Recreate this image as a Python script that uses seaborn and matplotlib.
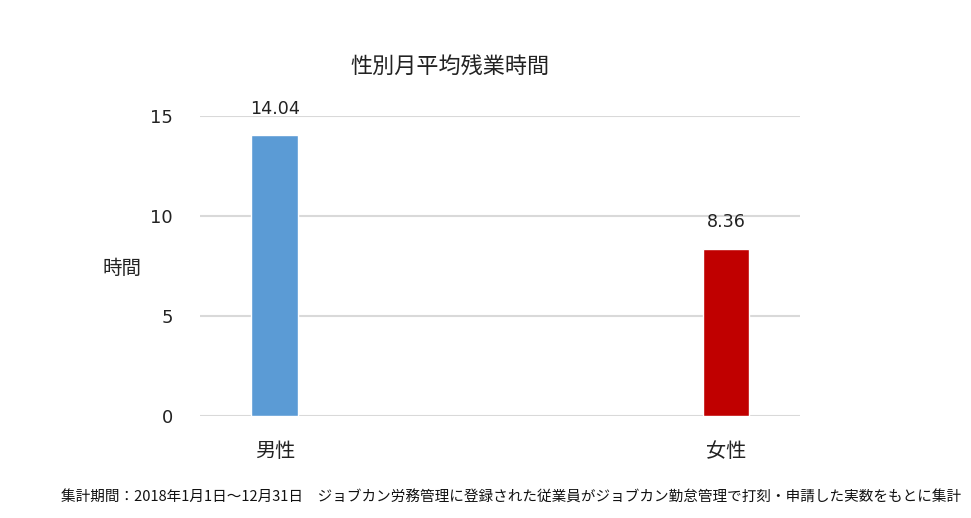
import matplotlib
matplotlib.use("Agg")
import matplotlib.pyplot as plt
import seaborn as sns
import pandas as pd

# ------------------------------------------------------------------
# DATA
# ------------------------------------------------------------------
genders = ["男性", "女性"]
hours   = [14.04, 8.36]
colors  = ["#5B9BD5", "#C00000"]
y_ticks = [0, 5, 10, 15]

title    = "性別月平均残業時間"
y_label  = "時間"
footnote = ("集計期間：2018年1月1日～12月31日　ジョブカン労務管理に登録された"
            "従業員がジョブカン勤怠管理で打刻・申請した実数をもとに集計")

df = pd.DataFrame({"gender": genders, "hours": hours})

sns.set_theme(style="white")
plt.rcParams["font.family"] = ["Noto Sans CJK JP", "DejaVu Sans"]
NUM_FONT = ["DejaVu Sans"]
TXT = "#222222"

fig = plt.figure(figsize=(9.71, 5.18), dpi=100)
ax = fig.add_axes([200 / 971, (518 - 416) / 518, 600 / 971, 300 / 518])

sns.barplot(data=df, x="gender", y="hours", hue="gender",
            palette=dict(zip(genders, colors)), width=0.104,
            legend=False, ax=ax, saturation=1)

for c in ax.containers:
    ax.bar_label(c, fmt="%.2f", padding=12.5, fontsize=12.6,
                 color=TXT, family=NUM_FONT)

ax.set_xlim(-0.166, 1.164)
ax.set_ylim(0, 15)
ax.set_yticks(y_ticks)
ax.yaxis.grid(True, color="#D9D9D9", linewidth=1.5)
ax.set_axisbelow(True)
sns.despine(ax=ax, left=True, bottom=True)
ax.tick_params(axis="y", length=0, pad=19.5, labelsize=13, labelcolor=TXT)
for lbl in ax.get_yticklabels():
    lbl.set_family(NUM_FONT)
ax.tick_params(axis="x", length=0, pad=18, labelsize=14.5, labelcolor=TXT)
ax.set_xlabel("")
ax.set_ylabel(y_label, rotation=0, fontsize=14, color=TXT, va="center")
ax.yaxis.set_label_coords(-0.13, 0.493)

fig.text(450 / 971, 1 - 67 / 518, title, ha="center", va="center",
         fontsize=15.9, color=TXT)
fig.text(511.5 / 971, 1 - 498 / 518, footnote, ha="center", va="center",
         fontsize=10.5, color="#111111")

fig.savefig("out.png", dpi=100)
